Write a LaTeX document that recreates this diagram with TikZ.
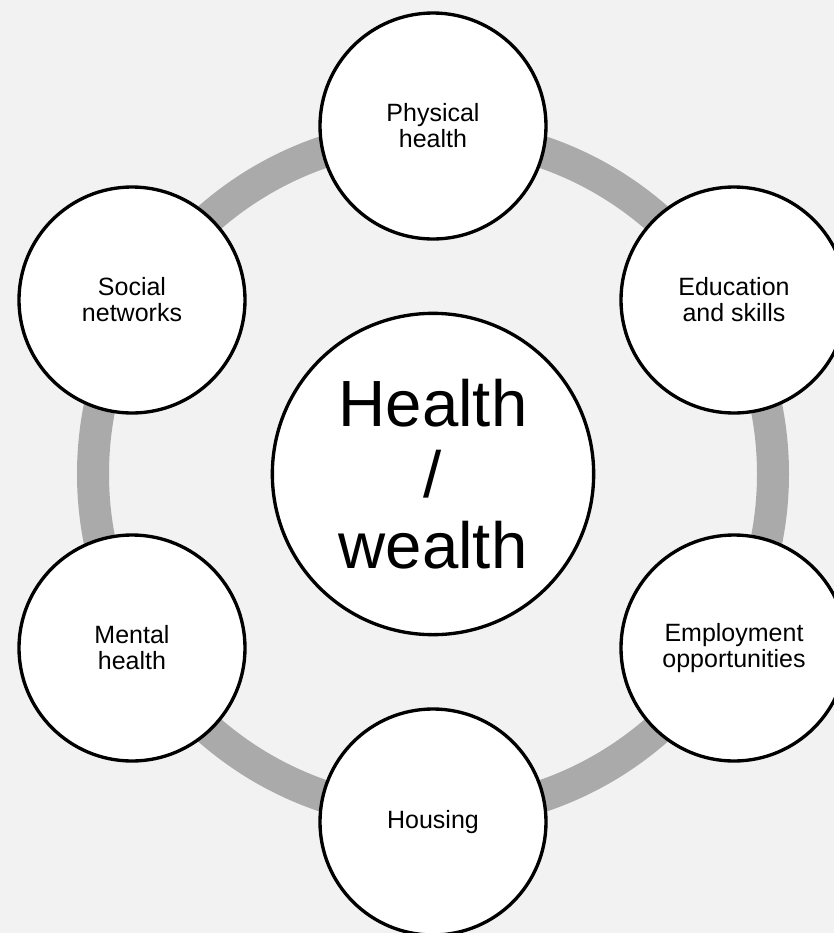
\documentclass[tikz,border=0pt]{standalone}
\usepackage{fontspec}
\setmainfont{Liberation Sans}
\definecolor{bg}{HTML}{F2F2F2}
\definecolor{ringgray}{HTML}{AAAAAA}
\begin{document}
\begin{tikzpicture}[x=0.75pt,y=-0.75pt,
  topic/.style={circle, draw=black, line width=2.5pt, fill=white, minimum size=169.5pt, inner sep=0pt, align=center,
    font=\fontsize{18.75}{19.5}\selectfont},
  hub/.style={circle, draw=black, line width=2.5pt, fill=white, minimum size=241pt, inner sep=0pt, align=center,
    font=\fontsize{49}{53}\selectfont}]
\fill[bg] (0,0) rectangle (834,933);
\useasboundingbox (0,0) rectangle (834,933);
\coordinate (c) at (433,474);
\draw[ringgray, line width=24pt] (c) circle [radius=255pt];
\node[hub] (hub) at (c) {Health\\/\\wealth};
\node[topic] (phys) at (433,126) {Physical\\health};
\node[topic] (edu) at (734,300) {Education\\and skills};
\node[topic] (emp) at (734,648) {Employment\\opportunities};
\node[topic] (house) at (433,822) {Housing};
\node[topic] (mental) at (132,648) {Mental\\health};
\node[topic] (social) at (132,300) {Social\\networks};
\end{tikzpicture}
\end{document}
